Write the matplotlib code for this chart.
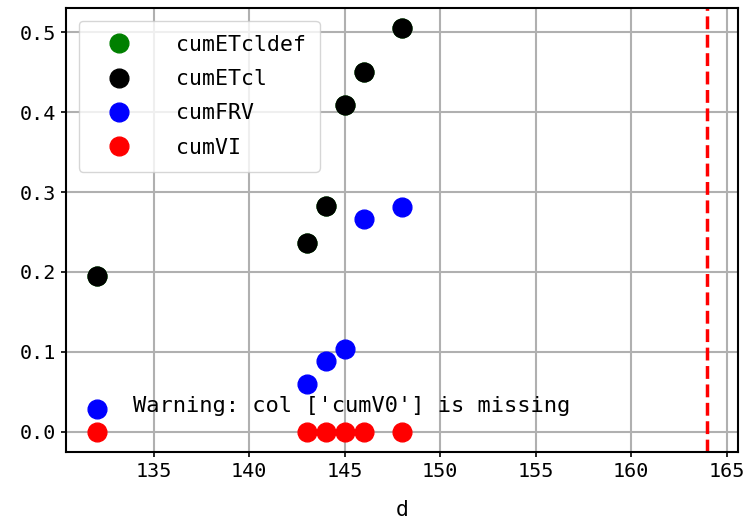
import numpy as np
import matplotlib
matplotlib.use('Agg')
import matplotlib.pyplot as plt

# data
d = [132, 143, 144, 145, 146, 148]
cumETcldef = [0.195, 0.236, 0.2825, 0.409, 0.450, 0.505]
cumETcl = [0.195, 0.236, 0.2825, 0.409, 0.450, 0.505]
cumFRV = [0.029, 0.060, 0.089, 0.104, 0.266, 0.281]
cumVI = [0.0, 0.0, 0.0, 0.0, 0.0, 0.0]
d_end = 164
missing = ['cumV0']

plt.rcParams['font.family'] = ['DejaVu Sans Mono']
plt.rcParams['font.size'] = 14.5

fig = plt.figure(figsize=(7.44, 5.23), dpi=100)
ax = fig.add_axes([66 / 744, 71 / 523, 672 / 744, 444 / 523])

series = [('cumETcldef', cumETcldef, 'green'),
          ('cumETcl', cumETcl, 'black'),
          ('cumFRV', cumFRV, 'blue'),
          ('cumVI', cumVI, 'red')]
for name, vals, col in series:
    ax.plot(d, vals, 'o', color=col, markersize=13.5, label=name)

ax.axvline(d_end, color='red', linestyle='--', linewidth=2.5)

ax.text(0.1, 0.09, 'Warning: col %s is missing' % str(missing),
        transform=ax.transAxes, fontsize=15.8)

ax.grid(True, color='#b0b0b0', linewidth=1.5)
ax.set_axisbelow(True)
for sp in ax.spines.values():
    sp.set_linewidth(1.5)
ax.set_xlabel('d', fontsize=15.5, labelpad=14)
ax.tick_params(labelsize=14.5, width=1.2)
ax.legend(loc='upper left', handlelength=2.4, handletextpad=1.45, fontsize=15.5,
          borderpad=0.65, labelspacing=0.66, borderaxespad=0.6)

fig.savefig('out.png', dpi=100)
